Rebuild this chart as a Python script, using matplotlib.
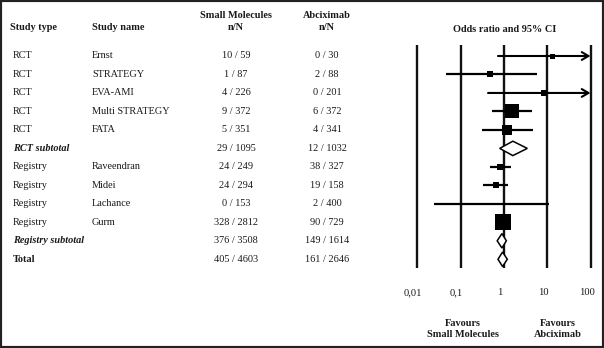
import numpy as np
import matplotlib
matplotlib.use("Agg")
import matplotlib.pyplot as plt
from matplotlib.patches import Polygon, Rectangle
from matplotlib.transforms import blended_transform_factory, ScaledTranslation

plt.rcParams["font.family"] = ["Liberation Serif", "DejaVu Serif"]

# dati della tabella
study_type = ["RCT", "RCT", "RCT", "RCT", "RCT", "RCT subtotal",
              "Registry", "Registry", "Registry", "Registry", "Registry subtotal", "Total"]
study_name = ["Ernst", "STRATEGY", "EVA-AMI", "Multi STRATEGY", "FATA", "",
              "Raveendran", "Midei", "Lachance", "Gurm", "", ""]
small_mol = ["10 / 59", "1 / 87", "4 / 226", "9 / 372", "5 / 351", "29 / 1095",
             "24 / 249", "24 / 294", "0 / 153", "328 / 2812", "376 / 3508", "405 / 4603"]
abcix = ["0 / 30", "2 / 88", "0 / 201", "6 / 372", "4 / 341", "12 / 1032",
         "38 / 327", "19 / 158", "2 / 400", "90 / 729", "149 / 1614", "161 / 2646"]
row_kind = ["study"] * 5 + ["subtotal"] + ["study"] * 4 + ["subtotal", "total"]

# odds ratio e IC 95%
odds_ratio = [13.1, 0.49, 8.4, 1.51, 1.20, 1.61, 0.81, 0.65, 0.52, 0.94, 0.90, 0.93]
ci_low = [0.73, 0.045, 0.43, 0.54, 0.32, 0.80, 0.47, 0.33, 0.024, 0.80, 0.70, 0.73]
ci_high = [250, 5.7, 250, 4.4, 4.8, 3.47, 1.43, 1.26, 11.2, 1.12, 1.14, 1.20]
weight = [3.6, 4.8, 4.3, 9.4, 7.9, 0, 5.0, 4.3, 1.5, 11.3, 0, 0]  # lato quadrato (pt)

tick_vals = [0.01, 0.1, 1, 10, 100]
tick_labels = ["0,01", "0,1", "1", "10", "100"]

W, H = 604, 348
fig = plt.figure(figsize=(W / 100, H / 100), dpi=100)
txt_color = "#1a1a1a"
fs = 7.4

# assi forest plot (scala log)
top_px, bot_px = 45, 267.7
row0_px, step_px = 56, 18.48
ymin = (top_px - row0_px) / step_px
ymax = (bot_px - row0_px) / step_px
x_lo, x_hi = 10 ** -2.1, 10 ** 2.1
dec_px = 43.3
left_px = 417.3 - 0.1 * dec_px
width_px = 4.2 * dec_px
ax = fig.add_axes([left_px / W, 1 - bot_px / H, width_px / W, (bot_px - top_px) / H])
ax.set_xscale("log")
ax.set_xlim(x_lo, x_hi)
ax.set_ylim(ymax, ymin)
for s in ax.spines.values():
    s.set_visible(False)
ax.set_yticks([])
ax.minorticks_off()
ax.set_xticks(tick_vals)
ax.set_xticklabels(tick_labels, fontsize=fs + 0.2, color=txt_color)
ax.tick_params(axis="x", length=0, pad=14.5)
for lbl in ax.get_xticklabels():
    lbl.set_transform(lbl.get_transform() + ScaledTranslation(-4 / 100, 0, fig.dpi_scale_trans))

for v in tick_vals:
    ax.axvline(v, color="#111111", lw=1.7, zorder=1)

for i in range(len(odds_ratio)):
    if row_kind[i] == "study":
        hi = min(ci_high[i], 100)
        if ci_high[i] > 100:
            ax.annotate("", xy=(hi, i), xytext=(ci_low[i], i),
                        arrowprops=dict(arrowstyle="->, head_length=0.6, head_width=0.35",
                                        lw=1.5, color="black",
                                        shrinkA=0, shrinkB=0, mutation_scale=8),
                        zorder=3)
        else:
            ax.plot([ci_low[i], hi], [i, i], color="black", lw=1.6, zorder=3,
                    solid_capstyle="butt")
        ax.plot(odds_ratio[i], i, marker="s", ms=weight[i], color="black",
                mec="black", mew=0, zorder=4)
    else:
        h = 0.39
        d = Polygon([(ci_low[i], i), (odds_ratio[i], i - h), (ci_high[i], i),
                     (odds_ratio[i], i + h)], closed=True, fc="white",
                    ec="black", lw=1.1, zorder=4)
        ax.add_patch(d)

# tabella di sinistra
tr = blended_transform_factory(fig.transFigure, ax.transData)
col_x = {"type": 13, "name": 92, "sm": 236, "ab": 327}
for i in range(len(study_type)):
    if row_kind[i] == "subtotal":
        fw, st = "bold", "italic"
    elif row_kind[i] == "total":
        fw, st = "bold", "normal"
    else:
        fw, st = "normal", "normal"
    fig.text(col_x["type"] / W, i, study_type[i], transform=tr, fontsize=fs,
             fontweight=fw, style=st, ha="left", va="center", color=txt_color)
    fig.text(col_x["name"] / W, i, study_name[i], transform=tr, fontsize=fs,
             ha="left", va="center", color=txt_color)
    fig.text(col_x["sm"] / W, i, small_mol[i], transform=tr, fontsize=fs,
             ha="center", va="center", color=txt_color)
    fig.text(col_x["ab"] / W, i, abcix[i], transform=tr, fontsize=fs,
             ha="center", va="center", color=txt_color)

# intestazioni
def ftext(x, y, s, **kw):
    fig.text(x / W, 1 - y / H, s, fontsize=fs, color=txt_color, va="center", **kw)

ftext(10, 27.5, "Study type", ha="left", fontweight="bold")
ftext(92, 27.5, "Study name", ha="left", fontweight="bold")
ftext(236, 16, "Small Molecules", ha="center", fontweight="bold")
ftext(236, 27.5, "n/N", ha="center", fontweight="bold")
ftext(327, 15.5, "Abciximab", ha="center", fontweight="bold")
ftext(327, 27.5, "n/N", ha="center", fontweight="bold")
ftext(505, 30, "Odds ratio and 95% CI", ha="center", fontweight="bold")
ftext(463, 323, "Favours", ha="center", fontweight="bold")
ftext(463, 334.5, "Small Molecules", ha="center", fontweight="bold")
ftext(558, 323, "Favours", ha="center", fontweight="bold")
ftext(558, 334.5, "Abciximab", ha="center", fontweight="bold")

# cornice
fig.add_artist(Rectangle((0, 0), 1, 1, transform=fig.transFigure, fill=False,
                         lw=3, ec="#222222"))

fig.savefig("out.png", dpi=100)
